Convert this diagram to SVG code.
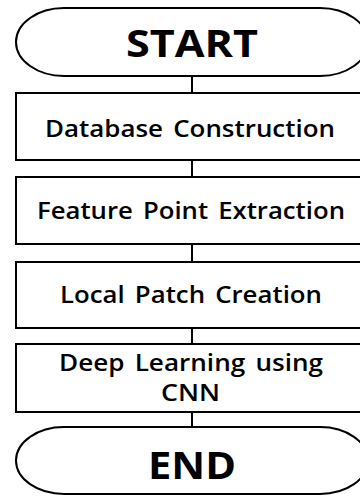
<svg xmlns="http://www.w3.org/2000/svg" width="360" height="496" viewBox="0 0 360 496">
  <style>
    .shape { fill: #ffffff; stroke: #000000; stroke-width: 2; }
    .link { stroke: #000000; stroke-width: 2; fill: none; }
    .label { font-family: "Open Sans", "Noto Sans", "Liberation Sans", sans-serif; font-weight: bold; fill: #000000; text-anchor: middle; }
    .big { font-size: 38px; }
    .step { font-size: 23px; font-weight: 600; word-spacing: 3px; }
  </style>
  <rect width="360" height="496" fill="#ffffff"/>

  <!-- connectors between consecutive steps -->
  <g id="connectors">
    <line class="link" x1="192" y1="76" x2="192" y2="93"/>
    <line class="link" x1="192" y1="160" x2="192" y2="177"/>
    <line class="link" x1="192" y1="244" x2="192" y2="262"/>
    <line class="link" x1="192" y1="328" x2="192" y2="344"/>
    <line class="link" x1="192" y1="412" x2="192" y2="427"/>
  </g>

  <g id="start">
    <path class="shape" d="M 64 8 H 320 A 48 34 0 0 1 320 76 H 64 A 48 34 0 0 1 64 8 Z"/>
    <text class="label big" x="192" y="57" textLength="132" lengthAdjust="spacingAndGlyphs">START</text>
  </g>

  <g id="database-construction">
    <rect class="shape" x="16" y="93" width="352" height="67"/>
    <text class="label step" x="190" y="136.5" textLength="290" lengthAdjust="spacingAndGlyphs">Database Construction</text>
  </g>

  <g id="feature-point-extraction">
    <rect class="shape" x="16" y="177" width="352" height="67"/>
    <text class="label step" x="191" y="219" textLength="308" lengthAdjust="spacingAndGlyphs">Feature Point Extraction</text>
  </g>

  <g id="local-patch-creation">
    <rect class="shape" x="16" y="262" width="352" height="66"/>
    <text class="label step" x="191" y="302.5" textLength="262" lengthAdjust="spacingAndGlyphs">Local Patch Creation</text>
  </g>

  <g id="deep-learning">
    <rect class="shape" x="16" y="344" width="352" height="68"/>
    <text class="label step" x="191" y="370.5" textLength="264" lengthAdjust="spacingAndGlyphs">Deep Learning using</text>
    <text class="label step" x="190.5" y="400.5" textLength="59" lengthAdjust="spacingAndGlyphs">CNN</text>
  </g>

  <g id="end">
    <path class="shape" d="M 64 427 H 320 A 48 33.5 0 0 1 320 494 H 64 A 48 33.5 0 0 1 64 427 Z"/>
    <text class="label big" x="192" y="479" textLength="88" lengthAdjust="spacingAndGlyphs">END</text>
  </g>
</svg>
